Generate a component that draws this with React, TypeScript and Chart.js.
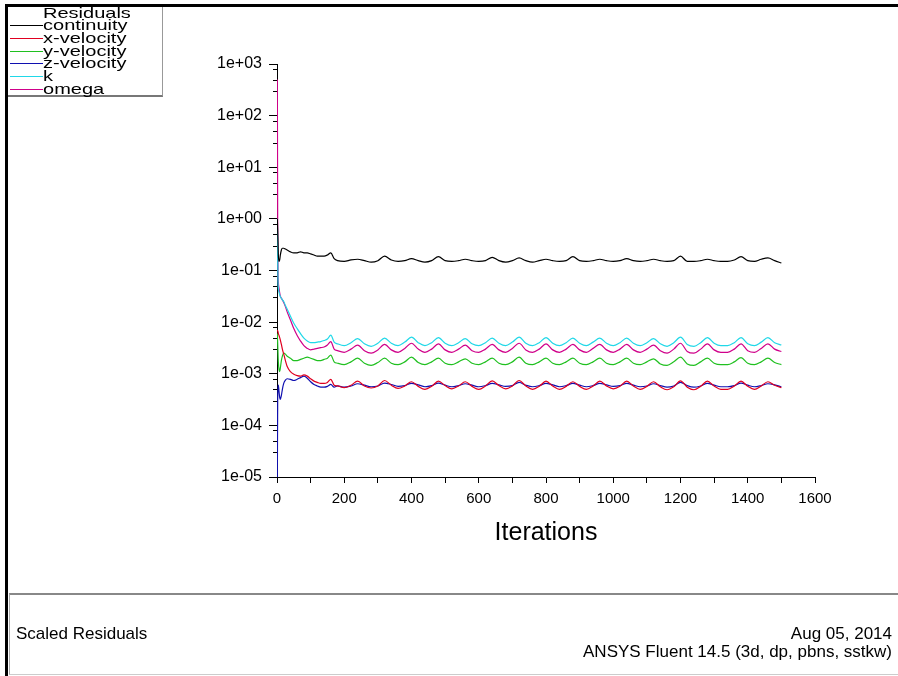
import React, { useEffect, useRef } from 'react';
import { Chart, registerables } from 'chart.js';

Chart.register(...registerables);

const FONT = "'Liberation Sans', Arial, sans-serif";

const ITER = [
  1, 2, 3, 4, 6, 8, 10, 13, 16, 20, 25, 30, 40, 50, 60, 70, 80, 90, 100, 110, 120, 130, 140, 150, 160, 170,
  180, 200, 220, 240, 260, 280, 300, 320, 340, 360, 380, 400, 420, 440, 460, 480, 500, 520, 540, 560, 580, 600,
  620, 640, 660, 680, 700, 720, 740, 760, 780, 800, 820, 840, 860, 880, 900, 920, 940, 960, 980, 1000, 1020, 1040,
  1060, 1080, 1100, 1120, 1140, 1160, 1180, 1200, 1220, 1240, 1260, 1280, 1300, 1320, 1340, 1360, 1380, 1400,
  1420, 1440, 1460, 1480, 1500,
];

const CONTINUITY = [
  1.0, 0.6, 0.35, 0.2, 0.15, 0.16, 0.2, 0.25, 0.27, 0.27, 0.26, 0.25, 0.23, 0.22, 0.22, 0.23, 0.22, 0.22, 0.21, 0.2, 0.19, 0.19, 0.19, 0.2, 0.22, 0.17,
  0.155, 0.15, 0.16, 0.165, 0.155, 0.145, 0.155, 0.19, 0.16, 0.15, 0.155, 0.17, 0.155, 0.145, 0.155, 0.185, 0.155, 0.15, 0.155, 0.165, 0.155, 0.15,
  0.155, 0.18, 0.155, 0.145, 0.155, 0.175, 0.155, 0.145, 0.155, 0.165, 0.155, 0.15, 0.155, 0.185, 0.155, 0.15, 0.155, 0.165, 0.155, 0.15, 0.155, 0.17,
  0.155, 0.15, 0.155, 0.165, 0.155, 0.15, 0.155, 0.19, 0.15, 0.15, 0.155, 0.165, 0.155, 0.15, 0.15, 0.16, 0.185, 0.155,
  0.15, 0.165, 0.175, 0.155, 0.14,
];

const X_VELOCITY = [
  0.007, 0.0068, 0.0065, 0.006, 0.0055, 0.005, 0.0045, 0.0037, 0.003, 0.0024, 0.0018, 0.0014, 0.0011, 0.00098, 0.00092, 0.0009, 0.00095, 0.0009, 0.0008, 0.00072, 0.00068, 0.00065, 0.00065, 0.00068, 0.00078, 0.0006,
  0.00058, 0.00054, 0.0006, 0.00072, 0.00058, 0.00053, 0.00058, 0.00074, 0.0006, 0.00052, 0.00058, 0.0007, 0.00057, 0.0005, 0.00057, 0.00072, 0.00059, 0.00051, 0.00058, 0.0007, 0.00057, 0.0005,
  0.00058, 0.00073, 0.00059, 0.00051, 0.00058, 0.00074, 0.00058, 0.0005, 0.00057, 0.00072, 0.00058, 0.0005, 0.00057, 0.0007, 0.00057, 0.0005, 0.00058, 0.00072, 0.00058, 0.00051, 0.00057, 0.00072,
  0.00058, 0.0005, 0.00057, 0.0007, 0.00056, 0.00049, 0.00056, 0.00073, 0.00055, 0.00049, 0.00057, 0.00072, 0.00058, 0.0005, 0.0005, 0.00058, 0.00072, 0.00057,
  0.0005, 0.00058, 0.0007, 0.0006, 0.00054,
];

const Y_VELOCITY = [
  0.006, 0.004, 0.0025, 0.0017, 0.0012, 0.0011, 0.0013, 0.0018, 0.0022, 0.0025, 0.0024, 0.0022, 0.002, 0.0018, 0.0018, 0.0019, 0.002, 0.0021, 0.002, 0.0019, 0.0018, 0.0018, 0.0019, 0.002, 0.0023, 0.0017,
  0.0016, 0.0015, 0.0017, 0.002, 0.0016, 0.00145, 0.00165, 0.002, 0.0016, 0.0015, 0.0017, 0.0021, 0.00165, 0.0015, 0.0017, 0.002, 0.0016, 0.0015, 0.0017, 0.00195, 0.0016, 0.0015,
  0.0017, 0.002, 0.0016, 0.0015, 0.0017, 0.0021, 0.0016, 0.0015, 0.0017, 0.002, 0.0016, 0.0015, 0.0017, 0.002, 0.0016, 0.0015, 0.0017, 0.002, 0.0016, 0.0015, 0.0017, 0.002,
  0.0016, 0.0015, 0.0017, 0.00195, 0.00155, 0.00145, 0.0017, 0.0021, 0.00155, 0.00145, 0.0017, 0.002, 0.0016, 0.0015, 0.0015, 0.0017, 0.00205, 0.0016,
  0.0015, 0.0017, 0.002, 0.00165, 0.0015,
];

const Z_VELOCITY = [
  0.00001, 0.0003, 0.0005, 0.0006, 0.00045, 0.00035, 0.00032, 0.00038, 0.0005, 0.00065, 0.00075, 0.0008, 0.00078, 0.00074, 0.00078, 0.00084, 0.0009, 0.00082, 0.0007, 0.00062, 0.00058, 0.00055, 0.00055, 0.00057, 0.00062, 0.00055,
  0.00058, 0.00055, 0.00058, 0.00064, 0.0006, 0.00056, 0.00058, 0.00066, 0.00062, 0.00057, 0.00059, 0.00065, 0.00061, 0.00056, 0.00059, 0.00066, 0.0006, 0.00056, 0.00059, 0.00064, 0.0006, 0.00056,
  0.00059, 0.00065, 0.00061, 0.00057, 0.00059, 0.00068, 0.0006, 0.00056, 0.00059, 0.00065, 0.00061, 0.00056, 0.00059, 0.00065, 0.0006, 0.00056, 0.00059, 0.00065, 0.00061, 0.00057, 0.00059, 0.00065,
  0.0006, 0.00056, 0.00058, 0.00064, 0.00059, 0.00055, 0.00058, 0.00068, 0.00059, 0.00055, 0.00058, 0.00065, 0.0006, 0.00056, 0.00056, 0.00059, 0.00066, 0.0006,
  0.00056, 0.00059, 0.00064, 0.00061, 0.00056,
];

const K = [
  1.0, 0.2, 0.06, 0.045, 0.038, 0.034, 0.031, 0.029, 0.027, 0.025, 0.021, 0.018, 0.013, 0.0095, 0.0075, 0.006, 0.0049, 0.0043, 0.004, 0.004, 0.0041, 0.0042, 0.0044, 0.0047, 0.0056, 0.0041,
  0.0038, 0.0035, 0.004, 0.0048, 0.0038, 0.0034, 0.0039, 0.0049, 0.0039, 0.0035, 0.0041, 0.0051, 0.004, 0.0035, 0.004, 0.005, 0.0039, 0.0035, 0.004, 0.0048, 0.0038, 0.0035,
  0.004, 0.0049, 0.0039, 0.0035, 0.0041, 0.0051, 0.0039, 0.0035, 0.004, 0.005, 0.0039, 0.0035, 0.004, 0.0049, 0.0039, 0.0035, 0.0041, 0.0049, 0.0039, 0.0035, 0.004, 0.0049,
  0.0039, 0.0035, 0.004, 0.0048, 0.0038, 0.0034, 0.004, 0.0051, 0.0037, 0.0034, 0.004, 0.005, 0.0039, 0.0035, 0.0035, 0.004, 0.005, 0.0038,
  0.0035, 0.0041, 0.005, 0.004, 0.0036,
];

const OMEGA = [
  500, 1.0, 0.1, 0.06, 0.045, 0.037, 0.032, 0.029, 0.027, 0.024, 0.02, 0.016, 0.011, 0.0075, 0.0055, 0.0043, 0.0035, 0.0031, 0.0029, 0.003, 0.0031, 0.0032, 0.0033, 0.0036, 0.0042, 0.003,
  0.0028, 0.0026, 0.003, 0.0036, 0.0028, 0.0025, 0.0029, 0.0037, 0.0029, 0.0026, 0.0031, 0.0039, 0.003, 0.0026, 0.003, 0.0038, 0.0029, 0.0026, 0.003, 0.0036, 0.0028, 0.0026,
  0.003, 0.0037, 0.0029, 0.0026, 0.0031, 0.0039, 0.0029, 0.0026, 0.003, 0.0038, 0.0029, 0.0026, 0.003, 0.0037, 0.0029, 0.0026, 0.0031, 0.0037, 0.0029, 0.0026, 0.003, 0.0037,
  0.0029, 0.0026, 0.003, 0.0036, 0.0028, 0.0025, 0.003, 0.0039, 0.0027, 0.0025, 0.003, 0.0038, 0.0029, 0.0026, 0.0026, 0.003, 0.0038, 0.0028,
  0.0026, 0.0031, 0.0038, 0.003, 0.0027,
];

const SERIES_NAMES = ['continuity', 'x-velocity', 'y-velocity', 'z-velocity', 'k', 'omega'];
const SERIES_COLORS = ['#000000', '#e00020', '#20c020', '#1010b0', '#20d8e8', '#d0008a'];
const LEGEND_TITLE = 'Residuals';

const X_MIN = 0;
const X_MAX = 1600;
const X_TICK_STEP = 100;
const X_LABEL_STEP = 200;
const X_TITLE = 'Iterations';

const Y_TICKS = [1e-5, 1e-4, 1e-3, 1e-2, 1e-1, 1e0, 1e1, 1e2, 1e3];
const Y_TICK_LABELS = ['1e-05', '1e-04', '1e-03', '1e-02', '1e-01', '1e+00', '1e+01', '1e+02', '1e+03'];
const Y_MINOR_FACTORS = [3, 5, 8];

const FOOTER_LEFT = 'Scaled Residuals';
const FOOTER_DATE = 'Aug 05, 2014';
const FOOTER_VERSION = 'ANSYS Fluent 14.5 (3d, dp, pbns, sstkw)';

const minorTickPlugin = {
  id: 'minorTicks',
  afterDraw(chart: any) {
    const s = chart.scales.y;
    const c = chart.ctx;
    c.save();
    c.strokeStyle = '#000';
    c.lineWidth = 1;
    c.beginPath();
    for (const d of Y_TICKS) {
      for (const m of Y_MINOR_FACTORS) {
        const v = d * m;
        if (v > Y_TICKS[Y_TICKS.length - 1]) continue;
        const py = Math.round(s.getPixelForValue(v)) + 0.5;
        c.moveTo(s.right - 4, py);
        c.lineTo(s.right, py);
      }
    }
    c.stroke();
    c.restore();
  },
};

export default function App() {
  const ref = useRef<HTMLCanvasElement>(null);

  useEffect(() => {
    const canvas = ref.current;
    if (!canvas) return;
    const series = [CONTINUITY, X_VELOCITY, Y_VELOCITY, Z_VELOCITY, K, OMEGA];
    const chart = new Chart(canvas, {
      type: 'line',
      data: {
        datasets: series.map((vals, i) => ({
          label: SERIES_NAMES[i],
          data: ITER.map((x, j) => ({ x, y: vals[j] })),
          borderColor: SERIES_COLORS[i],
          backgroundColor: SERIES_COLORS[i],
          borderWidth: 1.2,
          pointRadius: 0,
          cubicInterpolationMode: 'monotone',
          fill: false,
        })),
      },
      options: {
        animation: false,
        responsive: false,
        devicePixelRatio: 1,
        layout: { padding: { left: 0, right: 83, top: 64, bottom: 128 } },
        plugins: { legend: { display: false }, tooltip: { enabled: false }, title: { display: false } },
        scales: {
          x: {
            type: 'linear',
            min: X_MIN,
            max: X_MAX,
            afterBuildTicks: (s: any) => {
              const t = [];
              for (let v = X_MIN; v <= X_MAX; v += X_TICK_STEP) t.push({ value: v });
              s.ticks = t;
            },
            afterFit: (s: any) => {
              s.height = 71;
            },
            ticks: {
              autoSkip: false,
              maxRotation: 0,
              padding: 7,
              color: '#000',
              font: { family: FONT, size: 15 },
              callback: (v: any) => (Number(v) % X_LABEL_STEP === 0 ? String(v) : ''),
            },
            grid: { display: true, drawOnChartArea: false, drawTicks: true, tickLength: 6, tickColor: '#000', tickWidth: 1 },
            border: { display: true, color: '#000', width: 1 },
            title: { display: true, text: X_TITLE, color: '#000', font: { family: FONT, size: 25 }, padding: { top: 0, bottom: 0 } },
          },
          y: {
            type: 'logarithmic',
            min: Y_TICKS[0],
            max: Y_TICKS[Y_TICKS.length - 1],
            afterBuildTicks: (s: any) => {
              s.ticks = Y_TICKS.map((v) => ({ value: v, major: true }));
            },
            afterFit: (s: any) => {
              s.width = 277;
            },
            ticks: {
              autoSkip: false,
              padding: 7,
              color: '#000',
              font: { family: FONT, size: 16 },
              callback: (_v: any, idx: number) => Y_TICK_LABELS[idx],
            },
            grid: { display: true, drawOnChartArea: false, drawTicks: true, tickLength: 8, tickColor: '#000', tickWidth: 1 },
            border: { display: true, color: '#000', width: 1 },
          },
        },
      },
      plugins: [minorTickPlugin],
    } as any);
    return () => chart.destroy();
  }, []);

  const legendRows = [LEGEND_TITLE, ...SERIES_NAMES];
  const rowH = 12.7;

  return (
    <div style={{ position: 'absolute', left: 0, top: 0, width: 898, height: 676, background: '#fff', overflow: 'hidden', fontFamily: FONT }}>
      <canvas ref={ref} width={898} height={676} style={{ position: 'absolute', left: 0, top: 0, width: 898, height: 676 }} />
      <div style={{ position: 'absolute', left: 5, top: 4, width: 893, height: 3, background: '#000' }} />
      <div style={{ position: 'absolute', left: 5, top: 4, width: 3, height: 672, background: '#000' }} />
      <div style={{ position: 'absolute', left: 8, top: 7, width: 154, height: 88, borderRight: '1px solid #999', borderBottom: '2px solid #777', background: '#fff' }} />
      {legendRows.map((name, i) => {
        const top = Math.round(6.6 + i * rowH);
        return (
          <div key={name} style={{ position: 'absolute', left: 8, top, width: 154, height: 13 }}>
            {i > 0 && (
              <div style={{ position: 'absolute', left: 2, width: 33, top: 6, height: 1, background: SERIES_COLORS[i - 1] }} />
            )}
            <span
              style={{
                position: 'absolute',
                left: 35,
                top: -3,
                fontSize: 14.5,
                lineHeight: '18px',
                color: '#000',
                whiteSpace: 'nowrap',
                transform: 'scaleX(1.38)',
                transformOrigin: 'left center',
              }}
            >
              {name}
            </span>
          </div>
        );
      })}
      <div style={{ position: 'absolute', left: 9, top: 593, width: 889, height: 79, borderTop: '2px solid #888', borderLeft: '1px solid #aaa', borderBottom: '1px solid #ccc' }} />
      <div style={{ position: 'absolute', left: 16, top: 624, fontSize: 17, lineHeight: '20px', color: '#000', whiteSpace: 'nowrap' }}>{FOOTER_LEFT}</div>
      <div style={{ position: 'absolute', right: 6, top: 624, fontSize: 17, lineHeight: '20px', color: '#000', whiteSpace: 'nowrap', textAlign: 'right' }}>{FOOTER_DATE}</div>
      <div style={{ position: 'absolute', right: 6, top: 642, fontSize: 17, lineHeight: '20px', color: '#000', whiteSpace: 'nowrap', textAlign: 'right' }}>{FOOTER_VERSION}</div>
    </div>
  );
}
